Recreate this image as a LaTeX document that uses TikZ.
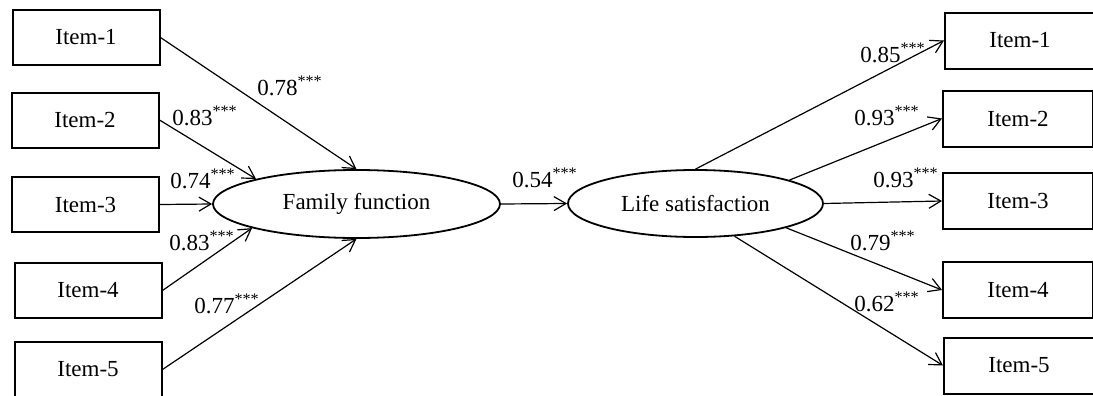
\documentclass[tikz,border=0pt]{standalone}
\usepackage{fontspec}
\setmainfont{Liberation Serif}
\usetikzlibrary{arrows.meta, shapes.geometric}

\newcommand{\starred}[1]{#1\textsuperscript{***}}

\begin{document}
\begin{tikzpicture}[x=0.5pt, y=-0.5pt, >={Straight Barb[length=6pt, width=7pt]},
    font=\fontsize{11.5}{13.5}\selectfont,
    itembox/.style={draw, line width=1pt, minimum width=73.5pt, minimum height=27.5pt, inner sep=0pt},
    rightbox/.style={itembox, minimum width=75pt, minimum height=28pt},
    latent/.style={draw, ellipse, line width=0.9pt, inner sep=0pt},
    loading/.style={->, line width=0.6pt},
    coef/.style={inner sep=0pt}]
    \useasboundingbox (0,0) rectangle (1093,396);

    \node[itembox] (fi1) at (86,37.5) {Item-1};
    \node[itembox] (fi2) at (85,120) {Item-2};
    \node[itembox] (fi3) at (85.5,204.5) {Item-3};
    \node[itembox] (fi4) at (88,290.5) {Item-4};
    \node[itembox] (fi5) at (88,369.5) {Item-5};

    \node[latent, minimum width=143.5pt, minimum height=34pt] (ff) at (356.5,204) {Family function};
    \node[latent, minimum width=127.5pt, minimum height=33.5pt] (ls) at (695.5,203.5) {Life satisfaction};

    \node[rightbox] (li1) at (1020,40.5) {Item-1};
    \node[rightbox] (li2) at (1018,118.5) {Item-2};
    \node[rightbox] (li3) at (1018,201) {Item-3};
    \node[rightbox] (li4) at (1018,290) {Item-4};
    \node[rightbox] (li5) at (1019,365.5) {Item-5};

    \draw[loading] (fi1.east) -- (ff.north);
    \draw[loading] (fi2.east) -- (ff.166.6);
    \draw[loading] (fi3.east) -- (ff.west);
    \draw[loading] (fi4.east) -- (ff.193.4);
    \draw[loading] (fi5.east) -- (ff.south);
    \draw[loading] (ff.east) -- (ls.west);
    \draw[loading] (ls.north) -- (li1.west);
    \draw[loading] (ls.14.2) -- (li2.west);
    \draw[loading] (ls.east) -- (li3.west);
    \draw[loading] (ls.345.4) -- (li4.west);
    \draw[loading] (ls.320.5) -- (li5.west);

    \node[coef] (c1) at (290,86) {\starred{0.78}};
    \node[coef] (c2) at (205,116) {\starred{0.83}};
    \node[coef] (c3) at (203,179) {\starred{0.74}};
    \node[coef] (c4) at (202,241) {\starred{0.83}};
    \node[coef] (c5) at (227,304) {\starred{0.77}};
    \node[coef] (cm) at (545,178) {\starred{0.54}};
    \node[coef] (d1) at (893,53) {\starred{0.85}};
    \node[coef] (d2) at (887,116) {\starred{0.93}};
    \node[coef] (d3) at (906,178) {\starred{0.93}};
    \node[coef] (d4) at (883,241) {\starred{0.79}};
    \node[coef] (d5) at (887,302) {\starred{0.62}};
\end{tikzpicture}
\end{document}
